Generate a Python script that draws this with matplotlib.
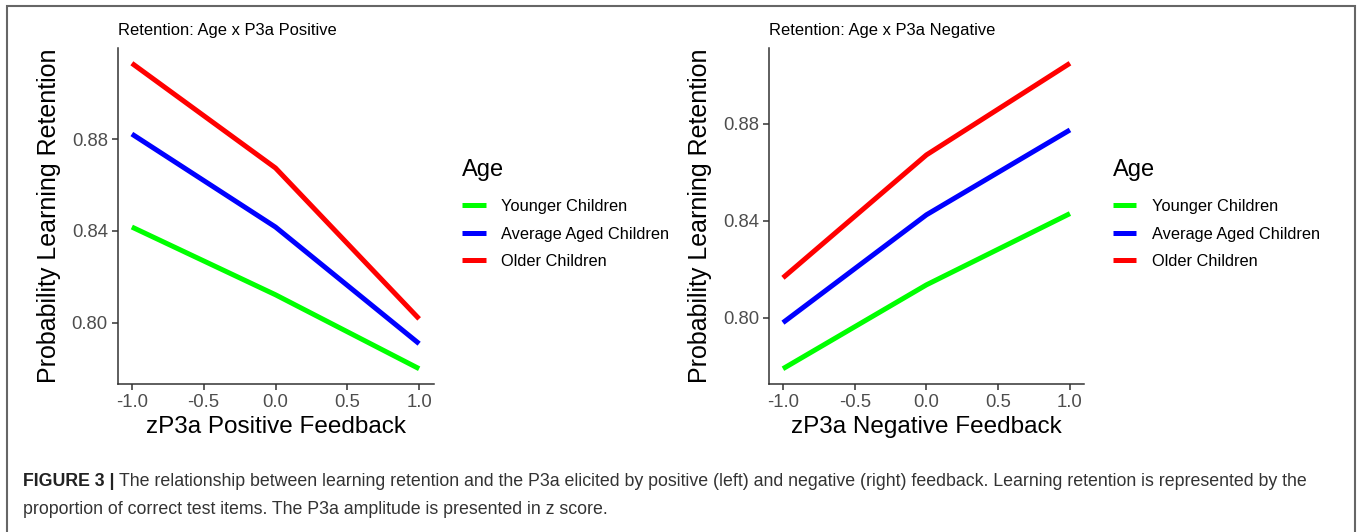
import matplotlib
matplotlib.use("Agg")
import matplotlib.pyplot as plt
from matplotlib.patches import Rectangle

plt.rcParams['font.family'] = ['Liberation Sans', 'DejaVu Sans']

# z-scored P3a amplitude
z_vals = [-1.0, 0.0, 1.0]
groups = ['Younger Children', 'Average Aged Children', 'Older Children']
colors = ['#00FF00', '#0000FF', '#FF0000']

# predicted retention, positive feedback panel
pos_younger = [0.8417, 0.8122, 0.7800]
pos_average = [0.8822, 0.8417, 0.7909]
pos_older = [0.9130, 0.8674, 0.8017]

# predicted retention, negative feedback panel
neg_younger = [0.7790, 0.8136, 0.8430]
neg_average = [0.7980, 0.8425, 0.8775]
neg_older = [0.8165, 0.8672, 0.9050]

y_ticks = [0.80, 0.84, 0.88]
x_ticks = [-1.0, -0.5, 0.0, 0.5, 1.0]

W, H = 1358, 532
fig = plt.figure(figsize=(W / 100, H / 100), dpi=100)

tick_grey = '#4D4D4D'
spine_col = '#333333'


def draw_panel(rect, series, title, xlabel, legend_x):
    ax = fig.add_axes(rect)
    for vals, col, name in zip(series, colors, groups):
        ax.plot(z_vals, vals, color=col, lw=3.6, label=name, solid_capstyle='butt')
    ax.margins(x=0.05, y=0.05)
    ax.set_xticks(x_ticks)
    ax.set_xticklabels([f'{v:.1f}' for v in x_ticks])
    ax.set_yticks(y_ticks)
    ax.set_yticklabels([f'{v:.2f}' for v in y_ticks])
    for s in ['top', 'right']:
        ax.spines[s].set_visible(False)
    for s in ['left', 'bottom']:
        ax.spines[s].set_color(spine_col)
        ax.spines[s].set_linewidth(1.1)
    ax.tick_params(colors=tick_grey, labelsize=13.3, length=4, width=1.1, pad=3)
    ax.tick_params(axis='both', color=spine_col)
    ax.set_xlabel(xlabel, fontsize=17.5, color='black', labelpad=4)
    ax.set_ylabel('Probability Learning Retention', fontsize=18, color='black', labelpad=8)
    ax.set_title(title, fontsize=11.9, loc='left', pad=9, color='black')
    # legend: title drawn separately so its gap to the keys matches
    fig.text(legend_x, 1 - 170 / H, 'Age', fontsize=17, va='center', ha='left')
    ax.legend(loc='upper left', bbox_to_anchor=(legend_x, 1 - 199 / H),
              bbox_transform=fig.transFigure, frameon=False,
              fontsize=11.75, handlelength=1.45, handletextpad=0.95,
              labelspacing=0.77, borderpad=0, borderaxespad=0)
    return ax


draw_panel([117.5 / W, 1 - 384 / H, 316 / W, 336 / H],
           [pos_younger, pos_average, pos_older],
           'Retention: Age x P3a Positive', 'zP3a Positive Feedback', 462 / W)
draw_panel([768.6 / W, 1 - 384 / H, 315.7 / W, 336 / H],
           [neg_younger, neg_average, neg_older],
           'Retention: Age x P3a Negative', 'zP3a Negative Feedback', 1112.5 / W)

# outer frame
fig.patches.append(Rectangle((7 / W, -0.1), (1355 - 7) / W, 1.1 - 6 / H,
                             transform=fig.transFigure, fill=False,
                             edgecolor='#666666', lw=1.5))

# caption
cap_y1 = 1 - 482 / H
cap_y2 = 1 - 510 / H
bold = fig.text(23 / W, cap_y1, 'FIGURE 3 |', fontsize=12.8, fontweight='bold',
                va='center', ha='left', color='#222222')
fig.canvas.draw()
bb = bold.get_window_extent()
fig.text(bb.x1 / W + 4 / W, cap_y1,
         'The relationship between learning retention and the P3a elicited by positive (left) '
         'and negative (right) feedback. Learning retention is represented by the',
         fontsize=12.8, va='center', ha='left', color='#333333')
fig.text(23 / W, cap_y2,
         'proportion of correct test items. The P3a amplitude is presented in z score.',
         fontsize=12.8, va='center', ha='left', color='#333333')

fig.savefig('out.png', dpi=100)
